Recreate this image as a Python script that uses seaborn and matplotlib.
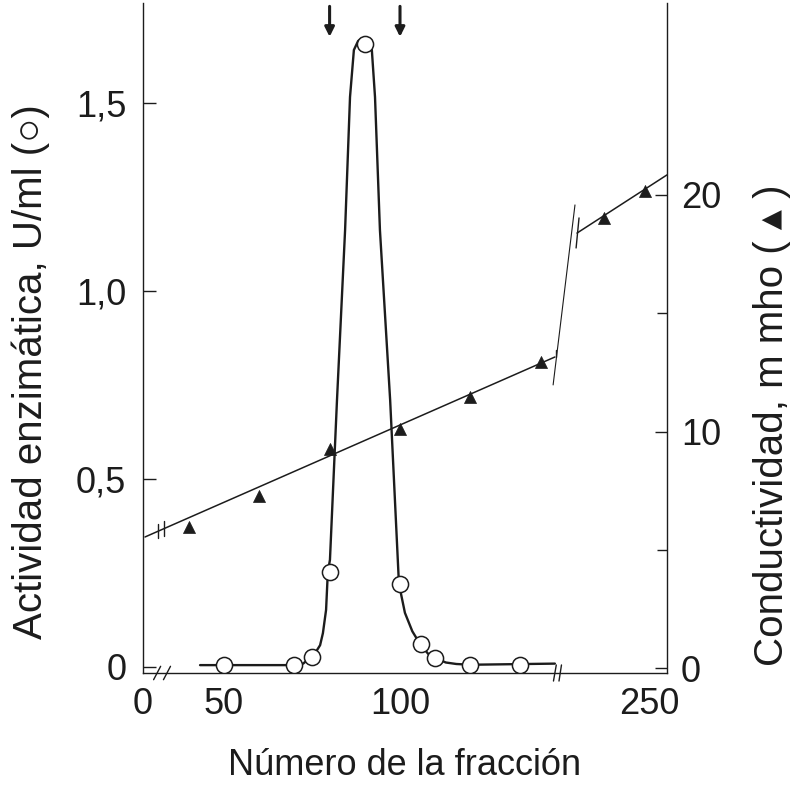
import numpy as np
import pandas as pd
import matplotlib
matplotlib.use("Agg")
import matplotlib.pyplot as plt
import seaborn as sns

# ---------------- data ----------------
# enzyme activity (open circles)
act_frac = [50, 70, 75, 80, 90, 100, 106, 110, 120, 134]
act_val = [0.005, 0.005, 0.027, 0.253, 1.657, 0.221, 0.061, 0.024, 0.005, 0.005]

# hand-drawn activity curve
curve_frac = [43.2, 69.9, 72.5, 74.7, 76.1, 77.3, 78.1, 79.0, 79.5, 80.1, 82.1, 84.4, 85.8, 86.9,
              88.1, 89.8, 91.5, 92.0, 92.9, 94.3, 97.2, 99.7, 101.4, 103.5, 105.7,
              108.0, 110.0, 113.0, 116.0, 120.0, 144.0]
curve_val = [0.005, 0.005, 0.009, 0.027, 0.040, 0.058, 0.090, 0.152, 0.253, 0.285, 0.710, 1.162,
             1.516, 1.641, 1.665, 1.673, 1.665, 1.641, 1.516, 1.162, 0.710, 0.221, 0.144, 0.095,
             0.061, 0.035, 0.024, 0.012, 0.008, 0.006, 0.009]

# conductivity (filled triangles)
cond_frac = [40, 60, 80, 100, 120, 140, 230, 248]
cond_val = [5.96, 7.27, 9.26, 10.1, 11.46, 12.94, 19.03, 20.17]

# conductivity gradient lines (two drawn segments and the jump between them)
grad1_frac = [5.7, 30, 144]
grad1_val = [5.54, 5.70, 13.15]
grad2_frac = [218, 258]
grad2_val = [18.39, 20.85]
jump_frac = [143.5, 217.1]
jump_val = [11.97, 19.58]

# axis ticks
x_ticks = [0, 50, 100, 250]
x_labels = ["0", "50", "100", "250"]
y1_ticks = [0, 0.5, 1.0, 1.5]
y1_labels = ["0", "0,5", "1,0", "1,5"]
y2_ticks = [0, 10, 20]
y2_labels = ["0", "10", "20"]
y2_minor = [5, 15]
arrow_fracs = [80, 100]

# broken x axis: fraction -> position (piecewise linear)
BRK_F = [0, 30, 145, 210, 260]
BRK_P = [143, 153.6, 558.4, 559, 671.5]


def fwd(x):
    return np.interp(x, BRK_F, BRK_P)


def inv(p):
    return np.interp(p, BRK_P, BRK_F)


# ---------------- style ----------------
sns.set_theme(style="white")
plt.rcParams["font.family"] = ["Liberation Sans", "DejaVu Sans"]
INK = "#1c1c1c"

fig = plt.figure(figsize=(7.94, 7.86), dpi=100)
fig.subplots_adjust(left=143 / 794, right=667 / 794, bottom=(786 - 673) / 786, top=(786 - 3) / 786)
ax = fig.add_subplot(111)
ax2 = ax.twinx()

df_curve = pd.DataFrame({"f": curve_frac, "a": curve_val})
df_act = pd.DataFrame({"f": act_frac, "a": act_val})
df_cond = pd.DataFrame({"f": cond_frac, "c": cond_val})

sns.lineplot(data=df_curve, x="f", y="a", ax=ax, sort=False, estimator=None,
             color=INK, lw=1.7, zorder=2)
sns.scatterplot(data=df_act, x="f", y="a", ax=ax, marker="o", s=135,
                facecolor="white", edgecolor=INK, linewidth=1.1, zorder=4)

for fx, fy, lw in [(grad1_frac, grad1_val, 1.1), (grad2_frac, grad2_val, 1.1), (jump_frac, jump_val, 0.8)]:
    sns.lineplot(x=fx, y=fy, ax=ax2, sort=False, estimator=None, color=INK, lw=lw)
sns.scatterplot(data=df_cond, x="f", y="c", ax=ax2, marker="^", s=75,
                color=INK, edgecolor=INK, linewidth=0.5, zorder=5)

# break marks on the gradient lines
ax2.plot([31.25, 31.25], [5.5, 6.1], color=INK, lw=1.0)
ax2.plot([32.95, 32.95], [5.6, 6.2], color=INK, lw=1.0)
ax2.plot([217.6, 218.9], [17.76, 19.03], color=INK, lw=1.0)
ax2.plot([144.3, 144.3], [13.15, 13.45], color=INK, lw=1.0)

# scales
ax.set_xscale("function", functions=(fwd, inv))
ax.set_xlim(0, inv(667))
ax.set_ylim((667 - 673) / 376, (667 - 3) / 376)
ax2.set_ylim(-(673 - 668) / 23.65, (668 - 3) / 23.65)

ax.set_xticks(x_ticks)
ax.set_xticklabels(x_labels)
ax.xaxis.set_minor_locator(matplotlib.ticker.NullLocator())
ax.set_yticks(y1_ticks)
ax.set_yticklabels(y1_labels)
ax2.set_yticks(y2_ticks)
ax2.set_yticklabels(y2_labels)
ax2.set_yticks(y2_minor, minor=True)

for a in (ax, ax2):
    a.spines["top"].set_visible(False)
    for s in a.spines.values():
        s.set_color(INK)
        s.set_linewidth(1.0)
ax2.spines["left"].set_visible(False)
ax2.spines["bottom"].set_visible(False)
ax.spines["right"].set_visible(False)

ax.tick_params(axis="both", which="major", direction="in", length=9, width=1, color=INK,
               labelsize=26, labelcolor=INK, pad=12)
ax.tick_params(axis="x", pad=10)
ax2.tick_params(axis="y", which="major", direction="in", length=9, width=1, color=INK,
                labelsize=26, labelcolor=INK, pad=10)
ax2.tick_params(axis="y", which="minor", direction="in", length=7, width=1, color=INK, left=False, right=True)

ax.set_xlabel("Número de la fracción", fontsize=26, color=INK)
ax.xaxis.set_label_coords(0.5, -0.112)
ax.set_ylabel("Actividad enzimática, U/ml (○)", fontsize=29, color=INK)
ax.yaxis.set_label_coords(-0.178, 0.45)
ax2.set_ylabel("Conductividad, m mho ( ▴ )", fontsize=29, color=INK)
ax2.yaxis.set_label_coords(1.165, 0.37)

# x-axis break marks
trans = matplotlib.transforms.blended_transform_factory(ax.transData, ax.transAxes)
for xf in (31.0, 33.8):
    ax.plot([xf - 1.0, xf + 1.0], [-0.01, 0.01], transform=trans, color=INK, lw=1.0, clip_on=False)
for xf in (144.0, 210.5):
    ax.plot([xf - 0.4 if xf < 200 else xf - 0.6, xf + 0.4 if xf < 200 else xf + 0.6], [-0.012, 0.012],
            transform=trans, color=INK, lw=1.0, clip_on=False)

# arrows marking the pooled fractions
for xf in arrow_fracs:
    ax.annotate("", xy=(xf, 1.676), xytext=(xf, 1.757), xycoords="data",
                arrowprops=dict(arrowstyle="-|>", color=INK, lw=2.2, mutation_scale=14,
                                shrinkA=0, shrinkB=0), annotation_clip=False)

ax.grid(False)
ax2.grid(False)
fig.savefig("out.png", dpi=100)
